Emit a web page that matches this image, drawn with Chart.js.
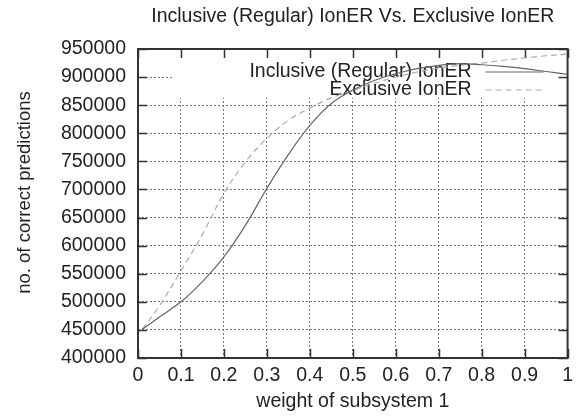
<!DOCTYPE html>
<html>
<head>
<meta charset="utf-8">
<title>Inclusive (Regular) IonER Vs. Exclusive IonER</title>
<script src="https://cdn.jsdelivr.net/npm/chart.js@4/dist/chart.umd.min.js"></script>
<style>
  html, body { margin: 0; padding: 0; background: #fff; }
  #chart { display: block; }
</style>
</head>
<body>
<canvas id="chart" width="579" height="418"></canvas>
<script>
/* ─────────────────────────────────────────────────────────────────────────────
 * IonER: correct predictions vs. weight of subsystem 1
 * Inclusive (regular) run drawn solid, exclusive run dashed, gnuplot-ish frame.
 * ───────────────────────────────────────────────────────────────────────────── */
var weights = [0.01, 0.05, 0.10, 0.15, 0.20, 0.25, 0.30, 0.35, 0.40, 0.45, 0.50,
               0.55, 0.60, 0.65, 0.70, 0.75, 0.80, 0.85, 0.90, 0.95, 1.00];

var inclusive = [451000, 473000, 500000, 536000, 580000, 636000, 702000, 762000,
                 814000, 853000, 877000, 894000, 906000, 915000, 921000, 924000,
                 922000, 919000, 915000, 910000, 905000];

var exclusive = [451000, 493000, 555000, 620000, 693000, 749000, 791000, 823000,
                 845000, 863000, 876000, 889000, 900000, 909000, 916000, 921000,
                 925000, 930000, 934000, 938000, 941000];

var seriesLabels = ['Inclusive (Regular) IonER', 'Exclusive IonER'];
var chartTitle = 'Inclusive (Regular) IonER Vs. Exclusive IonER';
var yTitle = 'no. of correct predictions';
var xTitle = 'weight of subsystem 1';

var xTickStep = 0.1;
var yTickStep = 50000;

(function () {
  'use strict';

  var FONT = 'Liberation Sans, Arial, Helvetica, sans-serif';
  var INK = '#222';
  var FRAME = '#333';

  function points(ys) {
    return weights.map(function (w, i) { return { x: w, y: ys[i] }; });
  }

  // ── Frame: titles, key box, inward tick marks, border ─────────────────────
  var framePlugin = {
    id: 'gnuplotFrame',
    beforeDatasetsDraw: function (chart) {
      var ctx = chart.ctx;
      var a = chart.chartArea;
      var xs = chart.scales.x, ys = chart.scales.y;

      ctx.save();
      ctx.fillStyle = INK;
      ctx.textBaseline = 'middle';

      // title sits over the plot box, not the whole canvas
      ctx.font = '19.5px ' + FONT;
      ctx.textAlign = 'center';
      ctx.fillText(chartTitle, (a.left + a.right) / 2, 16.5);

      // rotated y label, a little above the box centre
      ctx.save();
      ctx.translate(25, (a.top + a.bottom) / 2 - 11);
      ctx.rotate(-Math.PI / 2);
      ctx.font = '18.5px ' + FONT;
      ctx.fillText(yTitle, 0, 0);
      ctx.restore();

      // key area hides the grid underneath it
      ctx.fillStyle = '#fff';
      ctx.fillRect(a.left + 36, a.top, a.right - a.left - 36, 49);

      // key entries
      ctx.font = '19.5px ' + FONT;
      ctx.textAlign = 'right';
      chart.data.datasets.forEach(function (ds, i) {
        var y = a.top + 23 + i * 18;
        ctx.fillStyle = INK;
        ctx.fillText(ds.label, a.right - 96, y);
        ctx.strokeStyle = ds.borderColor;
        ctx.lineWidth = ds.borderWidth;
        ctx.setLineDash(ds.borderDash || []);
        ctx.beginPath();
        ctx.moveTo(a.right - 82, y);
        ctx.lineTo(a.right - 24, y);
        ctx.stroke();
      });
      ctx.setLineDash([]);

      // tick marks pointing into the plot
      ctx.strokeStyle = FRAME;
      ctx.lineWidth = 1.5;
      ctx.beginPath();
      xs.ticks.forEach(function (t) {
        var px = Math.round(xs.getPixelForValue(t.value)) + 0.5;
        ctx.moveTo(px, a.bottom); ctx.lineTo(px, a.bottom - 9);
        ctx.moveTo(px, a.top); ctx.lineTo(px, a.top + 9);
      });
      ys.ticks.forEach(function (t) {
        var py = Math.round(ys.getPixelForValue(t.value)) + 0.5;
        ctx.moveTo(a.left, py); ctx.lineTo(a.left + 9, py);
        ctx.moveTo(a.right, py); ctx.lineTo(a.right - 9, py);
      });
      ctx.stroke();

      ctx.lineWidth = 2;
      ctx.strokeRect(a.left, a.top, a.right - a.left, a.bottom - a.top);
      ctx.restore();
    }
  };

  new Chart(document.getElementById('chart').getContext('2d'), {
    type: 'line',
    data: {
      datasets: [{
        label: seriesLabels[0],
        data: points(inclusive),
        borderColor: '#666',
        borderWidth: 1.2,
        pointRadius: 0,
        tension: 0.35
      }, {
        label: seriesLabels[1],
        data: points(exclusive),
        borderColor: '#aaa',
        borderWidth: 1.2,
        borderDash: [6, 4],
        pointRadius: 0,
        tension: 0.35
      }]
    },
    options: {
      responsive: false,
      animation: false,
      layout: { padding: { left: 0, right: 10, top: 49, bottom: 0 } },
      plugins: {
        legend: { display: false },
        tooltip: { enabled: false },
        title: { display: false }
      },
      scales: {
        x: {
          type: 'linear',
          min: 0,
          max: 1,
          afterFit: function (s) { s.height = 60; },
          ticks: {
            stepSize: xTickStep,
            padding: 6,
            color: INK,
            font: { family: FONT, size: 19.5 },
            maxRotation: 0,
            callback: function (v) { return String(Math.round(v * 10) / 10); }
          },
          grid: { color: '#777', lineWidth: 1, drawTicks: false },
          border: { display: false, dash: [2, 2] },
          title: {
            display: true,
            text: xTitle,
            color: INK,
            font: { family: FONT, size: 19.5 },
            padding: { top: 0, bottom: 5 }
          }
        },
        y: {
          type: 'linear',
          min: 400000,
          max: 950000,
          afterFit: function (s) { s.width = 138; },
          ticks: {
            stepSize: yTickStep,
            padding: 12,
            color: INK,
            font: { family: FONT, size: 19.5 },
            callback: function (v) { return String(v); }
          },
          grid: { color: '#777', lineWidth: 1, drawTicks: false },
          border: { display: false, dash: [2, 2] }
        }
      }
    },
    plugins: [framePlugin]
  });
})();
</script>
</body>
</html>
